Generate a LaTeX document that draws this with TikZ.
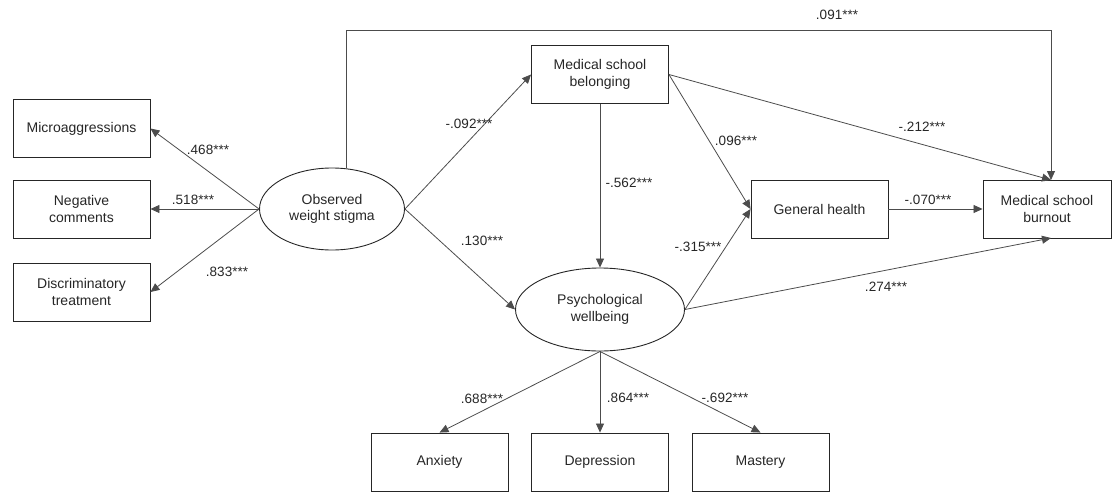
\documentclass[tikz,border=0pt]{standalone}
\usepackage{fontspec}
\setmainfont{Liberation Sans}
\usetikzlibrary{arrows.meta,shapes.geometric}

\tikzset{
    varbox/.style={draw=black!85, line width=0.9pt, minimum width=137pt, minimum height=58pt, align=center, inner sep=2pt},
    latent/.style={ellipse, draw=black!85, line width=0.9pt, align=center, inner sep=0pt},
    path/.style={-{Triangle[length=9pt,width=8pt]}, draw=black!70, line width=0.8pt},
    coef/.style={font=\fontsize{13.5}{15}\selectfont, text=black!85, inner sep=1pt}
}

\begin{document}
\begin{tikzpicture}[x=1pt, y=-1pt, font=\fontsize{14}{16.5}\selectfont, text=black!85]
    \useasboundingbox (0,0) rectangle (1115,492);

    % measured variables of weight stigma
    \node[varbox] (micro) at (81.5,128.5) {Microaggressions};
    \node[varbox] (negcom) at (81.5,209) {Negative\\comments};
    \node[varbox] (discr) at (81.5,292) {Discriminatory\\treatment};

    % latent variables
    \node[latent, minimum width=145pt, minimum height=82pt] (stigma) at (332,209) {Observed\\weight stigma};
    \node[latent, minimum width=169pt, minimum height=83pt] (wellb) at (600,309.5) {Psychological\\wellbeing};

    \node[varbox] (belong) at (600,74.5) {Medical school\\belonging};
    \node[varbox] (health) at (819.5,209) {General health};
    \node[varbox, minimum width=128pt] (burnout) at (1047,209) {Medical school\\burnout};

    % measured variables of wellbeing
    \node[varbox] (anx) at (439.5,462) {Anxiety};
    \node[varbox] (dep) at (600,462) {Depression};
    \node[varbox] (mast) at (760.5,462) {Mastery};

    \coordinate (bntop) at (1051,180);
    \coordinate (bnbot) at (1051,238);
    \coordinate (corner) at (1051,30);

    % paths
    \draw[path] (stigma.west) -- (micro.east);
    \draw[path] (stigma.west) -- (negcom.east);
    \draw[path] (stigma.west) -- (discr.east);
    \draw[path] (stigma.east) -- (belong.west);
    \draw[path] (stigma.east) -- (wellb.west);
    \draw[path] (stigma.71) |- (corner) -- (bntop);
    \draw[path] (belong.south) -- (wellb.north);
    \draw[path] (belong.east) -- (health.west);
    \draw[path] (belong.east) -- (bntop);
    \draw[path] (wellb.east) -- (health.west);
    \draw[path] (wellb.east) -- (bnbot);
    \draw[path] (health.east) -- (burnout.west);
    \draw[path] (wellb.south) -- (anx.north);
    \draw[path] (wellb.south) -- (dep.north);
    \draw[path] (wellb.south) -- (mast.north);

    % coefficients
    \node[coef] (c1) at (208,150) {.468***};
    \node[coef] (c2) at (193,200) {.518***};
    \node[coef] (c3) at (227,272) {.833***};
    \node[coef] (c4) at (469,124) {-.092***};
    \node[coef] (c5) at (482,241) {.130***};
    \node[coef] (c6) at (837,15) {.091***};
    \node[coef] (c7) at (629,183) {-.562***};
    \node[coef] (c8) at (736,141) {.096***};
    \node[coef] (c9) at (922,127) {-.212***};
    \node[coef] (c10) at (698,247) {-.315***};
    \node[coef] (c11) at (928,200) {-.070***};
    \node[coef] (c12) at (886,287) {.274***};
    \node[coef] (c13) at (482,399) {.688***};
    \node[coef] (c14) at (628,398) {.864***};
    \node[coef] (c15) at (725,398) {-.692***};
\end{tikzpicture}
\end{document}
